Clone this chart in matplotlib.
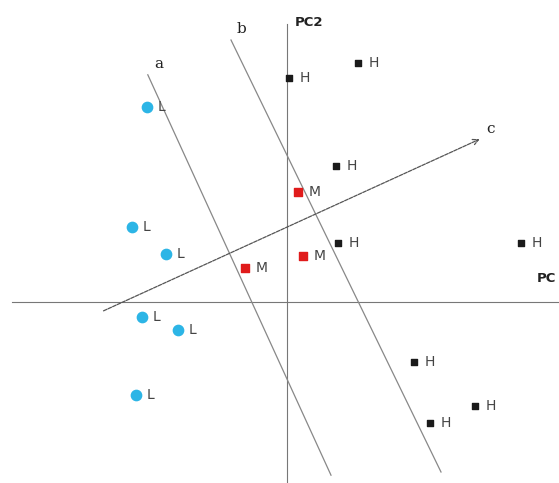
import matplotlib.pyplot as plt
import numpy as np

# scores on the first two components
L_x = [-3.50, -3.88, -3.03, -3.63, -2.73, -3.78]
L_y = [4.88, 1.88, 1.20, -0.38, -0.70, -2.33]
M_x = [0.28, 0.40, -1.05]
M_y = [2.75, 1.15, 0.85]
H_x = [0.05, 1.78, 1.23, 1.28, 5.85, 3.18, 4.70, 3.58]
H_y = [5.60, 5.98, 3.40, 1.48, 1.48, -1.50, -2.60, -3.03]

# separating lines a, b and direction c (start, end)
line_a = [(-3.48, 5.68), (1.10, -4.33)]
line_b = [(-1.40, 6.55), (3.85, -4.25)]
line_c = [(-4.65, -0.25), (4.88, 4.10)]

fig = plt.figure(figsize=(5.59, 4.83), dpi=100)
ax = fig.add_axes([0, 0, 1, 1])
ax.set_xlim(-7.175, 6.8)
ax.set_ylim(-4.525, 7.55)
ax.axis('off')

# axes through the origin
ax.plot([-6.875, 6.8], [0, 0], color='#777777', lw=0.8)
ax.plot([0, 0], [-4.525, 6.95], color='#777777', lw=0.8)
ax.text(0.2, 7.0, 'PC2', fontsize=9.5, fontweight='bold', color='#222222', va='center')
ax.text(6.25, 0.6, 'PC', fontsize=9.5, fontweight='bold', color='#222222', va='center')

# lines
for ln, lab in [(line_a, 'a'), (line_b, 'b')]:
    ax.plot([ln[0][0], ln[1][0]], [ln[0][1], ln[1][1]], color='#888888', lw=0.9)
    ax.text(ln[0][0] + 0.15, ln[0][1] + 0.1, lab, fontsize=11,
            family='DejaVu Serif', color='#222222', va='bottom')
ax.annotate('', xy=line_c[1], xytext=line_c[0],
            arrowprops=dict(arrowstyle='->', color='#555555', lw=0.9,
                            linestyle=(0, (3, 1))))
ax.text(line_c[1][0] + 0.1, line_c[1][1] + 0.05, 'c', fontsize=11,
        family='DejaVu Serif', color='#222222', va='bottom')

# points
ax.scatter(L_x, L_y, s=55, color='#2CB5E6', zorder=3)
ax.scatter(M_x, M_y, s=30, marker='s', color='#E01B1B', zorder=3)
ax.scatter(H_x, H_y, s=24, marker='s', color='#1A1A1A', zorder=3)

for xs, ys, lab in [(L_x, L_y, 'L'), (M_x, M_y, 'M'), (H_x, H_y, 'H')]:
    for x, y in zip(xs, ys):
        ax.text(x + 0.27, y, lab, fontsize=10, color='#444444', va='center')

fig.savefig('out.png', dpi=100)
